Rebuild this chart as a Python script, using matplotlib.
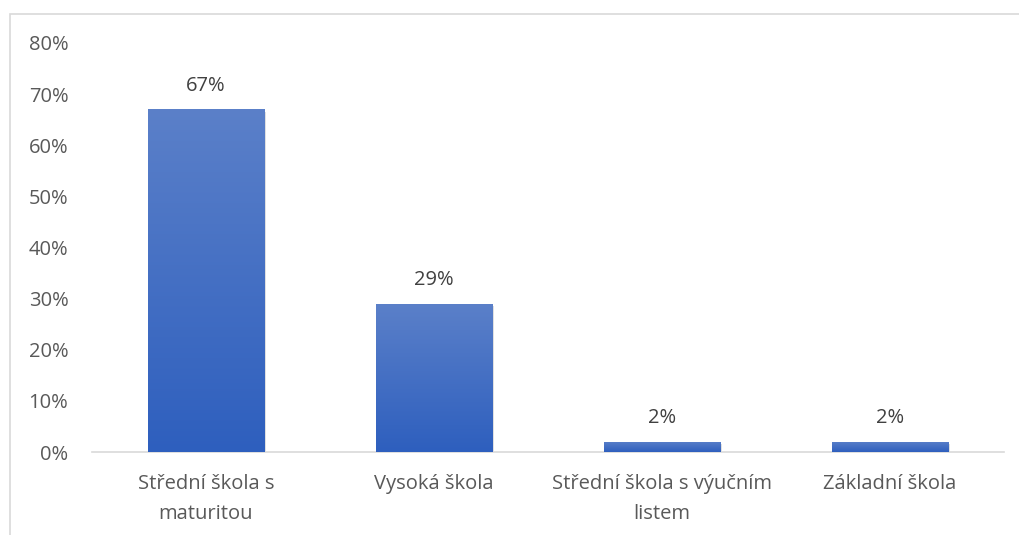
import matplotlib
matplotlib.use("Agg")
import matplotlib.pyplot as plt
import matplotlib.patches as mpatches
import numpy as np
from matplotlib.colors import LinearSegmentedColormap

categories = ["Střední škola s\nmaturitou", "Vysoká škola", "Střední škola s výučním\nlistem", "Základní škola"]
values = [0.67, 0.29, 0.02, 0.02]
labels = ["67%", "29%", "2%", "2%"]
yticks = [0, 0.1, 0.2, 0.3, 0.4, 0.5, 0.6, 0.7, 0.8]

plt.rcParams['font.family'] = ['Open Sans', 'DejaVu Sans']
grey = "#595959"
fs = 14.5

fig = plt.figure(figsize=(10.19, 5.35), dpi=100)
ax = fig.add_axes([92/1019, 1-452/535, (1004-92)/1019, (452-43)/535])

# chart frame
fig.patches.append(mpatches.Rectangle((10/1019, -0.1), 1.1, 1-14/535+0.1,
                                      transform=fig.transFigure, fill=False,
                                      edgecolor="#d9d9d9", linewidth=1.2))

x = np.arange(len(categories))
width = 0.51
bars = ax.bar(x, values, width=width, color="none", zorder=3)

cmap = LinearSegmentedColormap.from_list("g", ["#2e5fbe", "#5b80c9"])
grad = np.linspace(0, 1, 256).reshape(-1, 1)
for b in bars:
    x0, y0 = b.get_x(), b.get_y()
    w, h = b.get_width(), b.get_height()
    # soft shadow
    ax.add_patch(mpatches.Rectangle((x0 + 0.008, y0 - 0.004), w, h, color="#000000",
                                    alpha=0.12, zorder=2, linewidth=0))
    im = ax.imshow(grad, extent=(x0, x0 + w, y0, y0 + h), aspect="auto",
                   cmap=cmap, origin="lower", zorder=3)
    im.set_clip_path(b)

for xi, v, lab in zip(x, values, labels):
    ax.text(xi, v + 0.027, lab, ha="center", va="bottom", fontsize=fs, color="#404040")

ax.set_xlim(-0.5, len(categories) - 0.5)
ax.set_ylim(0, 0.8)
ax.set_yticks(yticks)
ax.set_yticklabels([f"{int(round(t*100))}%" for t in yticks], fontsize=fs, color=grey)
ax.set_xticks(x)
ax.set_xticklabels(categories, fontsize=fs, color=grey, linespacing=1.65,
                   multialignment="center")
ax.tick_params(length=0)
ax.tick_params(axis="y", pad=17)
ax.tick_params(axis="x", pad=16)
for s in ["top", "right", "left"]:
    ax.spines[s].set_visible(False)
ax.spines["bottom"].set_color("#d9d9d9")
ax.spines["bottom"].set_linewidth(1.2)
ax.set_zorder(1)

fig.savefig("out.png", dpi=100)
